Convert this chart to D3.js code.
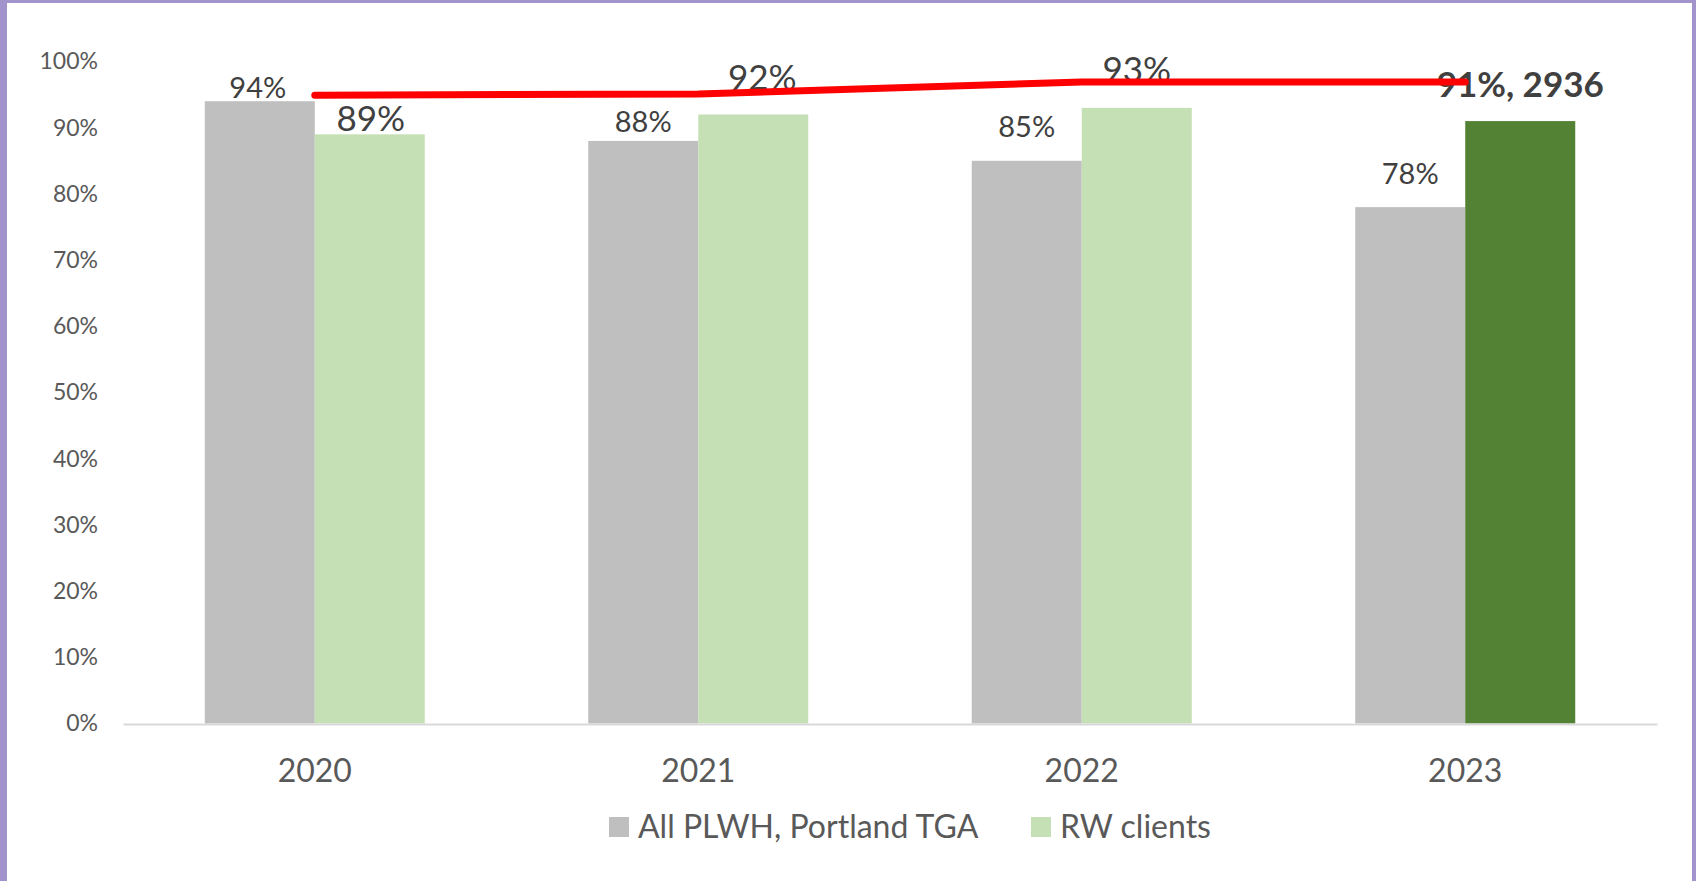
<!DOCTYPE html>
<html lang="en">
<head>
  <meta charset="UTF-8">
  <title>Viral suppression: All PLWH vs RW clients</title>
  <script src="https://d3js.org/d3.v7.min.js"></script>
  <style>
    html, body { margin: 0; padding: 0; background: #a293cc; }
    svg { display: block; font-family: Lato, "Open Sans", sans-serif; }
  </style>
</head>
<body>
  <div id="chart"></div>

  <script>
    // data
    const years = ["2020", "2021", "2022", "2023"];
    const seriesNames = ["All PLWH, Portland TGA", "RW clients"];
    const allPlwh = [0.94, 0.88, 0.85, 0.78];
    const rwClients = [0.89, 0.92, 0.93, 0.91];
    const targetLine = [0.949, 0.951, 0.969, 0.969];   // red line
    const highlightYear = "2023";
    const rwCount2023 = 2936;
    const yTicks = [0, 0.1, 0.2, 0.3, 0.4, 0.5, 0.6, 0.7, 0.8, 0.9, 1.0];

    // layout
    const W = 1696, H = 881;
    const plot = { left: 123, right: 1657, top: 61.5, bottom: 723.5 };
    // label nudges (pixels above bar top / sideways), as placed in the original
    const grayGap = [3, 9, 24, 23];
    const greenGap = [3, 24, 26, 24];
    const grayDx = [-2, 0, 0, 0];
    const greenDx = [1, 9, 0, 0];

    const colors = {
      gray: "#bfbfbf",
      green: "#c5e0b4",
      greenHi: "#548235",
      red: "#ff0000",
      axis: "#d9d9d9",
      tick: "#595959",
      label: "#404040"
    };

    const svg = d3.select("#chart").append("svg")
      .attr("width", W)
      .attr("height", H);

    // white card inside the purple frame
    svg.append("rect")
      .attr("x", 7).attr("y", 3)
      .attr("width", 1692 - 7).attr("height", H - 3)
      .attr("fill", "#ffffff");

    const x0 = d3.scaleBand()
      .domain(years)
      .range([plot.left, plot.right])
      .paddingInner(0.4263)
      .paddingOuter(0.2132);

    const x1 = d3.scaleBand()
      .domain(seriesNames)
      .range([0, x0.bandwidth()]);

    const y = d3.scaleLinear()
      .domain([0, 1])
      .range([plot.bottom, plot.top]);

    // y axis (labels only)
    const yAxis = svg.append("g")
      .attr("transform", `translate(${plot.left},0)`)
      .call(d3.axisLeft(y).tickValues(yTicks).tickFormat(d3.format(".0%")).tickSize(0).tickPadding(25));
    yAxis.select(".domain").remove();
    yAxis.selectAll("text")
      .attr("font-family", "Lato, sans-serif")
      .attr("font-size", 23)
      .attr("fill", colors.tick);

    const rows = years.map((yr, i) => ({ year: yr, i, gray: allPlwh[i], green: rwClients[i] }));

    // bars
    const groups = svg.append("g").selectAll("g")
      .data(rows)
      .join("g")
      .attr("transform", d => `translate(${x0(d.year)},0)`);

    groups.append("rect")
      .attr("x", x1(seriesNames[0]))
      .attr("y", d => y(d.gray))
      .attr("width", x1.bandwidth())
      .attr("height", d => y(0) - y(d.gray))
      .attr("fill", colors.gray);

    groups.append("rect")
      .attr("x", x1(seriesNames[1]))
      .attr("y", d => y(d.green))
      .attr("width", x1.bandwidth())
      .attr("height", d => y(0) - y(d.green))
      .attr("fill", d => d.year === highlightYear ? colors.greenHi : colors.green);

    // x axis
    const xAxis = svg.append("g")
      .attr("transform", `translate(0,${plot.bottom + 0.5})`)
      .call(d3.axisBottom(x0).tickSize(0).tickSizeOuter(0));
    xAxis.select(".domain")
      .attr("stroke", colors.axis)
      .attr("stroke-width", 2);
    xAxis.selectAll("text")
      .attr("dy", null)
      .attr("y", 58)
      .attr("font-family", "Lato, sans-serif")
      .attr("font-size", 32)
      .attr("fill", colors.tick);

    // data labels
    const fmt = d3.format(".0%");
    groups.append("text")
      .attr("x", d => x1(seriesNames[0]) + x1.bandwidth() / 2 + grayDx[d.i])
      .attr("y", d => y(d.gray) - grayGap[d.i])
      .attr("text-anchor", "middle")
      .attr("font-size", 29)
      .attr("fill", colors.label)
      .text(d => fmt(d.gray));

    groups.append("text")
      .attr("x", d => x1(seriesNames[1]) + x1.bandwidth() / 2 + greenDx[d.i])
      .attr("y", d => y(d.green) - greenGap[d.i])
      .attr("text-anchor", "middle")
      .attr("font-size", 35)
      .attr("font-weight", d => d.year === highlightYear ? 700 : 400)
      .attr("fill", colors.label)
      .text(d => d.year === highlightYear ? `${fmt(d.green)}, ${rwCount2023}` : fmt(d.green));

    // red line across category centres
    const line = d3.line()
      .x((d, i) => x0(years[i]) + x0.bandwidth() / 2)
      .y(d => y(d));

    svg.append("path")
      .datum(targetLine)
      .attr("fill", "none")
      .attr("stroke", colors.red)
      .attr("stroke-width", 7)
      .attr("stroke-linecap", "round")
      .attr("stroke-linejoin", "round")
      .attr("d", line);

    // legend
    const legendItems = [
      { name: seriesNames[0], color: colors.gray, x: 609 },
      { name: seriesNames[1], color: colors.green, x: 1031 }
    ];
    const legend = svg.append("g").selectAll("g")
      .data(legendItems)
      .join("g")
      .attr("transform", d => `translate(${d.x},817)`);
    legend.append("rect")
      .attr("width", 20).attr("height", 20)
      .attr("fill", d => d.color);
    legend.append("text")
      .attr("x", 29)
      .attr("y", 21)
      .attr("font-size", 32)
      .attr("fill", colors.tick)
      .text(d => d.name);
  </script>
</body>
</html>
